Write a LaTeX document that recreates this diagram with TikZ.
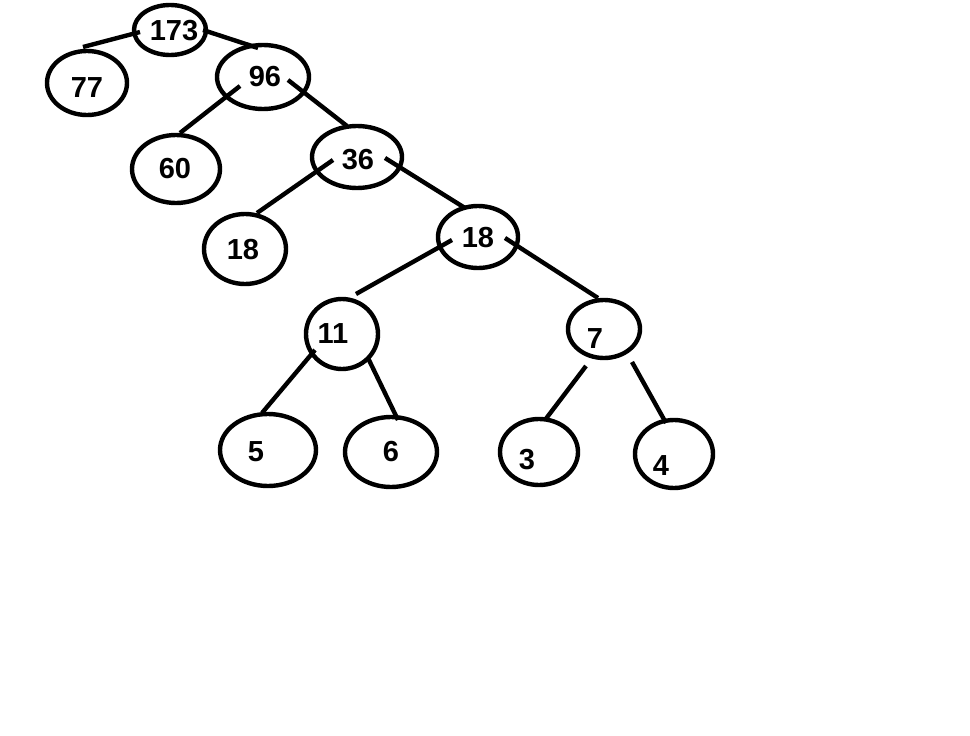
\documentclass[tikz,border=0pt]{standalone}
\usepackage{fontspec}
\setmainfont{Liberation Sans}
\usetikzlibrary{shapes.geometric,calc}
\begin{document}
\begin{tikzpicture}[x=1pt,y=-1pt,
  tn/.style={ellipse,draw,line width=4.4pt,inner sep=0pt},
  num/.style={font=\fontsize{29}{29}\selectfont\bfseries},
  edge/.style={line width=4.4pt}]
\useasboundingbox (0,0) rectangle (970,736);
\node[tn,minimum width=72,minimum height=50,label={[num,xshift=4pt,yshift=-1pt]center:173}] (a) at (170,30) {};
\node[tn,minimum width=80,minimum height=64,label={[num,yshift=-5pt]center:77}] (b) at (87,83) {};
\node[tn,minimum width=92,minimum height=64,label={[num,xshift=2pt]center:96}] (c) at (263,77) {};
\node[tn,minimum width=88,minimum height=68,label={[num,xshift=-1pt]center:60}] (d) at (176,169) {};
\node[tn,minimum width=90,minimum height=62,label={[num,xshift=1pt,yshift=-3pt]center:36}] (e) at (357,157) {};
\node[tn,minimum width=82,minimum height=70,label={[num,xshift=-2pt,yshift=-1pt]center:18}] (f) at (245,249) {};
\node[tn,minimum width=80,minimum height=62,label={[num,yshift=-1pt]center:18}] (g) at (478,237) {};
\node[tn,minimum width=72,minimum height=70,label={[num,xshift=-9pt]center:11}] (h) at (342,334) {};
\node[tn,minimum width=72,minimum height=58,label={[num,xshift=-9pt,yshift=-10pt]center:7}] (i) at (604,329) {};
\node[tn,minimum width=96,minimum height=72,label={[num,xshift=-12pt,yshift=-2pt]center:5}] (j) at (268,450) {};
\node[tn,minimum width=92,minimum height=70,label={[num]center:6}] (k) at (391,452) {};
\node[tn,minimum width=78,minimum height=66,label={[num,xshift=-12pt,yshift=-8pt]center:3}] (l) at (539,452) {};
\node[tn,minimum width=78,minimum height=68,label={[num,xshift=-13pt,yshift=-12pt]center:4}] (m) at (674,454) {};
\draw[edge] ($(a)+(-30,2)$) -- ($(b)+(-4,-36)$);
\draw[edge] ($(a)+(33,0)$) -- ($(c)+(-5,-29)$);
\draw[edge] ($(c)+(-23,9)$) -- ($(d)+(4,-36)$);
\draw[edge] ($(c)+(25,3)$) -- ($(e)+(-10,-31)$);
\draw[edge] ($(e)+(-24,3)$) -- ($(f)+(12,-36)$);
\draw[edge] ($(e)+(28,1)$) -- ($(g)+(-13,-29)$);
\draw[edge] ($(g)+(-26,3)$) -- ($(h)+(14,-40)$);
\draw[edge] ($(g)+(27,1)$) -- ($(i)+(-6,-31)$);
\draw[edge] ($(h)+(-27,16)$) -- ($(j)+(-6,-37)$);
\draw[edge] ($(h)+(26,24)$) -- ($(k)+(7,-32)$);
\draw[edge] ($(i)+(-18,37)$) -- ($(l)+(6,-32)$);
\draw[edge] ($(i)+(28,33)$) -- ($(m)+(-8,-31)$);
\end{tikzpicture}
\end{document}
